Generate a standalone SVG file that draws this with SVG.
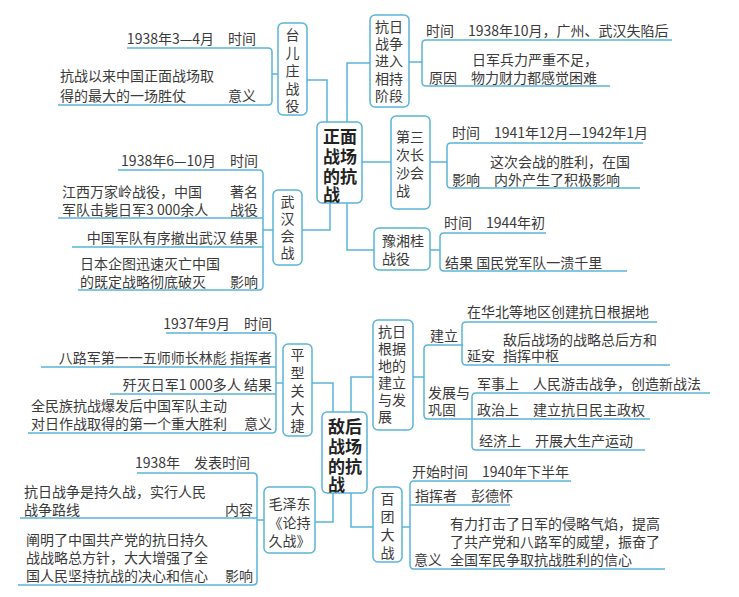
<svg xmlns="http://www.w3.org/2000/svg" width="739" height="597" viewBox="0 0 739 597">
<style>
text{font-family:"Noto Sans CJK SC","Liberation Sans",sans-serif;font-size:14px;fill:#3a3a3a}
.e{text-anchor:end}.m{text-anchor:middle}
.c{font-size:17px;font-weight:bold;fill:#222}
.b{fill:#fff;stroke:#5ab4d6;stroke-width:1.5}
.l{fill:none;stroke:#5ab4d6;stroke-width:1.5}
</style>
<rect width="739" height="597" fill="#fff"/>
<g id="connectors" class="l">
<path d="M307 80H327V122"/><path d="M302 230H330V203"/>
<path d="M347 122V63H370"/><path d="M362 162H391"/><path d="M347 203V250H374"/>
<path d="M127 48H268Q272 48 272 52V101Q272 105 268 105H58M272 74H278"/>
<path d="M118 170H259Q263 170 263 174V286Q263 290 259 290H78M58 218H263M72 247H263M263 230H273"/>
<path d="M409 62H422M672 40H426Q422 40 422 44V82Q422 86 426 86H610"/>
<path d="M430 162H447M643 143H451Q447 143 447 147V184Q447 188 451 188H640"/>
<path d="M430 250H440M546 233H444Q440 233 440 237V267Q440 271 444 271H627"/>
<path d="M312 383H333V412"/><path d="M315 522H333V493"/>
<path d="M351 412V377H373"/><path d="M351 493V527H373"/>
<path d="M166 333H272Q276 333 276 337V429Q276 433 272 433H28M41 367H276M110 394H276M276 383H283"/>
<path d="M137 473H253Q257 473 257 477V581Q257 585 253 585H18M20 518H257M257 520H264"/>
<path d="M413 377H424M463 345H428Q424 345 424 349V415Q424 419 428 419H472"/>
<path d="M657 322H466Q462 322 462 326V361Q462 365 466 365H670"/>
<path d="M710 393H476Q472 393 472 397V446Q472 450 476 450H645M472 419H650"/>
<path d="M402 527H410M571 481H414Q410 481 410 485V565Q410 569 414 569H665M410 505H510"/>
</g>
<g id="n_front"><rect class="b" x="317" y="122" width="45" height="81" rx="5"/><text class="c"><tspan x="323" y="143">正面</tspan><tspan x="323" y="163">战场</tspan><tspan x="323" y="183">的抗</tspan><tspan x="323" y="201">战</tspan></text></g>
<g id="n_taierzhuang"><rect class="b" x="278" y="23" width="29" height="92" rx="5"/><text class="m"><tspan x="292.5" y="40">台</tspan><tspan x="292.5" y="58">儿</tspan><tspan x="292.5" y="76">庄</tspan><tspan x="292.5" y="94">战</tspan><tspan x="292.5" y="111">役</tspan></text></g>
<g id="n_wuhan"><rect class="b" x="273" y="190" width="29" height="75" rx="5"/><text class="m"><tspan x="287.5" y="207">武</tspan><tspan x="287.5" y="224">汉</tspan><tspan x="287.5" y="241">会</tspan><tspan x="287.5" y="258">战</tspan></text></g>
<g id="n_xiangchi"><rect class="b" x="370" y="15" width="39" height="92" rx="5"/><text><tspan x="375" y="32">抗日</tspan><tspan x="375" y="49">战争</tspan><tspan x="375" y="66">进入</tspan><tspan x="375" y="84">相持</tspan><tspan x="375" y="101">阶段</tspan></text></g>
<g id="n_changsha"><rect class="b" x="391" y="116" width="39" height="93" rx="5"/><text><tspan x="396" y="142">第三</tspan><tspan x="396" y="160">次长</tspan><tspan x="396" y="178">沙会</tspan><tspan x="396" y="196">战</tspan></text></g>
<g id="n_yuxianggui"><rect class="b" x="374" y="228" width="56" height="42" rx="5"/><text><tspan x="382" y="246">豫湘桂</tspan><tspan x="382" y="264">战役</tspan></text></g>
<g id="n_rear"><rect class="b" x="322" y="412" width="45" height="81" rx="5"/><text class="c"><tspan x="328" y="433">敌后</tspan><tspan x="328" y="453">战场</tspan><tspan x="328" y="473">的抗</tspan><tspan x="328" y="491">战</tspan></text></g>
<g id="n_pingxingguan"><rect class="b" x="283" y="344" width="29" height="92" rx="5"/><text class="m"><tspan x="297.5" y="360">平</tspan><tspan x="297.5" y="378">型</tspan><tspan x="297.5" y="396">关</tspan><tspan x="297.5" y="414">大</tspan><tspan x="297.5" y="431">捷</tspan></text></g>
<g id="n_lunchijiuzhan"><rect class="b" x="264" y="487" width="51" height="66" rx="5"/><text class="m"><tspan x="289.5" y="509">毛泽东</tspan><tspan x="289.5" y="528">《论持</tspan><tspan x="289.5" y="546">久战》</tspan></text></g>
<g id="n_genjudi"><rect class="b" x="373" y="320" width="40" height="110" rx="5"/><text><tspan x="378" y="337">抗日</tspan><tspan x="378" y="354">根据</tspan><tspan x="378" y="371">地的</tspan><tspan x="378" y="388">建立</tspan><tspan x="378" y="405">与发</tspan><tspan x="378" y="422">展</tspan></text></g>
<g id="n_baituan"><rect class="b" x="373" y="487" width="29" height="75" rx="5"/><text class="m"><tspan x="387.5" y="504">百</tspan><tspan x="387.5" y="522">团</tspan><tspan x="387.5" y="540">大</tspan><tspan x="387.5" y="558">战</tspan></text></g>
<g id="labels">
<text class="e" x="256" y="44">1938年3—4月　时间</text>
<text><tspan x="60" y="81">抗战以来中国正面战场取</tspan><tspan x="60" y="101">得的最大的一场胜仗</tspan><tspan x="228" y="101">意义</tspan></text>
<text class="e" x="258" y="166">1938年6—10月　时间</text>
<text><tspan x="62" y="197">江西万家岭战役，中国</tspan><tspan x="62" y="215">军队击毙日军3 000余人</tspan></text><text class="e"><tspan x="258" y="197">著名</tspan><tspan x="258" y="215">战役</tspan></text>
<text class="e" x="258" y="243">中国军队有序撤出武汉  结果</text>
<text><tspan x="80" y="269">日本企图迅速灭亡中国</tspan><tspan x="80" y="287">的既定战略彻底破灭</tspan><tspan x="230" y="287">影响</tspan></text>
<text x="426" y="36">时间　1938年10月，广州、武汉失陷后</text>
<text><tspan x="472" y="65">日军兵力严重不足，</tspan><tspan x="429" y="83">原因　物力财力都感觉困难</tspan></text>
<text x="452" y="138">时间　1941年12月—1942年1月</text>
<text><tspan x="490" y="167">这次会战的胜利，在国</tspan><tspan x="452" y="185">影响　内外产生了积极影响</tspan></text>
<text x="444" y="228">时间　1944年初</text>
<text x="445" y="268">结果  国民党军队一溃千里</text>
<text class="e" x="272" y="329">1937年9月　时间</text>
<text class="e" x="272" y="363">八路军第一一五师师长林彪  指挥者</text>
<text class="e" x="272" y="390">歼灭日军1 000多人  结果</text>
<text><tspan x="31" y="411">全民族抗战爆发后中国军队主动</tspan><tspan x="31" y="429">对日作战取得的第一个重大胜利</tspan><tspan x="244" y="429">意义</tspan></text>
<text class="e" x="250" y="468">1938年　发表时间</text>
<text><tspan x="24" y="497">抗日战争是持久战，实行人民</tspan><tspan x="24" y="515">战争路线</tspan><tspan x="225" y="515">内容</tspan></text>
<text><tspan x="26" y="545">阐明了中国共产党的抗日持久</tspan><tspan x="26" y="563">战战略总方针，大大增强了全</tspan><tspan x="26" y="581">国人民坚持抗战的决心和信心</tspan><tspan x="225" y="581">影响</tspan></text>
<text x="467" y="317">在华北等地区创建抗日根据地</text>
<text><tspan x="503" y="345">敌后战场的战略总后方和</tspan><tspan x="467" y="361">延安</tspan><tspan x="503" y="361">指挥中枢</tspan></text>
<text x="430" y="341">建立</text>
<text><tspan x="428" y="398">发展与</tspan><tspan x="428" y="415">巩固</tspan></text>
<text x="477" y="389">军事上　人民游击战争，创造新战法</text>
<text x="477" y="415">政治上　建立抗日民主政权</text>
<text x="479" y="446">经济上　开展大生产运动</text>
<text x="412" y="477">开始时间　1940年下半年</text>
<text x="415" y="501">指挥者　彭德怀</text>
<text><tspan x="450" y="529">有力打击了日军的侵略气焰，提高</tspan><tspan x="450" y="547">了共产党和八路军的威望，振奋了</tspan><tspan x="414" y="565">意义</tspan><tspan x="450" y="565">全国军民争取抗战胜利的信心</tspan></text>
</g>
</svg>
